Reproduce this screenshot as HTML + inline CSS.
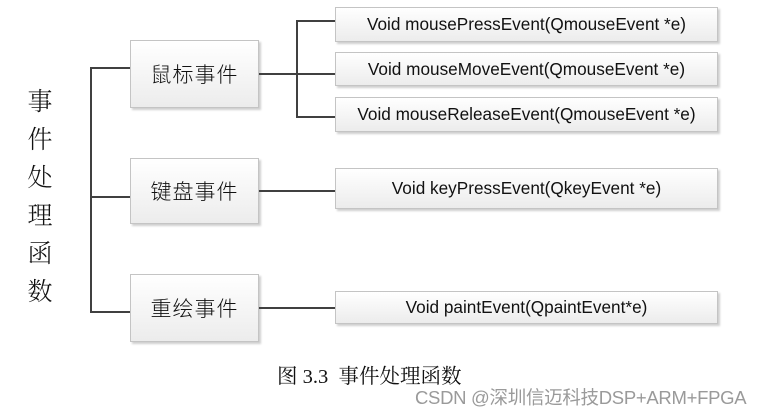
<!DOCTYPE html>
<html><head><meta charset="utf-8"><style>
body{margin:0;width:767px;height:414px;background:#fff;position:relative;overflow:hidden}
.b{position:absolute;box-sizing:border-box;border:1px solid #c4c4c4;background:linear-gradient(#ffffff,#ececec);box-shadow:2px 2px 2px #cfcfcf;display:flex;align-items:center;justify-content:center;font-family:"Liberation Sans","Noto Sans CJK SC",sans-serif;color:#111;white-space:nowrap}
.l{position:absolute;background:#404040}
.cn{font-size:21px;letter-spacing:1px;font-weight:300}
.en{font-size:17.2px}
.v{position:absolute;left:26px;width:28px;font-family:"Noto Serif CJK SC",serif;font-size:25px;line-height:38px;color:#111;text-align:center;font-weight:300}
</style></head><body>
<div class="v" style="top:81px">事<br>件<br>处<br>理<br>函<br>数</div>
<div class="l" style="left:90px;top:67px;width:2px;height:246px"></div>
<div class="l" style="left:90px;top:67px;width:40px;height:2px"></div>
<div class="l" style="left:90px;top:196px;width:40px;height:2px"></div>
<div class="l" style="left:90px;top:311px;width:40px;height:2px"></div>
<div class="b cn" style="left:130px;top:40px;width:129px;height:68px">鼠标事件</div>
<div class="b cn" style="left:130px;top:158px;width:129px;height:66px">键盘事件</div>
<div class="b cn" style="left:130px;top:274px;width:129px;height:68px">重绘事件</div>
<div class="l" style="left:259px;top:73px;width:38px;height:2px"></div>
<div class="l" style="left:296px;top:20px;width:2px;height:98px"></div>
<div class="l" style="left:296px;top:20px;width:39px;height:2px"></div>
<div class="l" style="left:296px;top:73px;width:39px;height:2px"></div>
<div class="l" style="left:296px;top:116px;width:39px;height:2px"></div>
<div class="l" style="left:259px;top:190px;width:76px;height:2px"></div>
<div class="l" style="left:259px;top:307px;width:76px;height:2px"></div>
<div class="b en" style="left:335px;top:7px;width:383px;height:35px">Void mousePressEvent(QmouseEvent *e)</div>
<div class="b en" style="left:335px;top:52px;width:383px;height:34px">Void mouseMoveEvent(QmouseEvent *e)</div>
<div class="b en" style="left:335px;top:97px;width:383px;height:35px">Void mouseReleaseEvent(QmouseEvent *e)</div>
<div class="b en" style="left:335px;top:168px;width:383px;height:41px">Void keyPressEvent(QkeyEvent *e)</div>
<div class="b en" style="left:335px;top:291px;width:383px;height:33px">Void paintEvent(QpaintEvent*e)</div>
<div style="position:absolute;left:277px;top:359px;font-family:'Liberation Serif','Noto Serif CJK SC',serif;font-size:20.5px;color:#111;white-space:nowrap">图 3.3&nbsp; 事件处理函数</div>
<div style="position:absolute;left:415px;top:384px;font-family:'Liberation Sans','Noto Sans CJK SC',sans-serif;font-size:18.5px;color:#9a9a9a;white-space:nowrap;letter-spacing:-0.3px">CSDN @深圳信迈科技DSP+ARM+FPGA</div>
</body></html>
